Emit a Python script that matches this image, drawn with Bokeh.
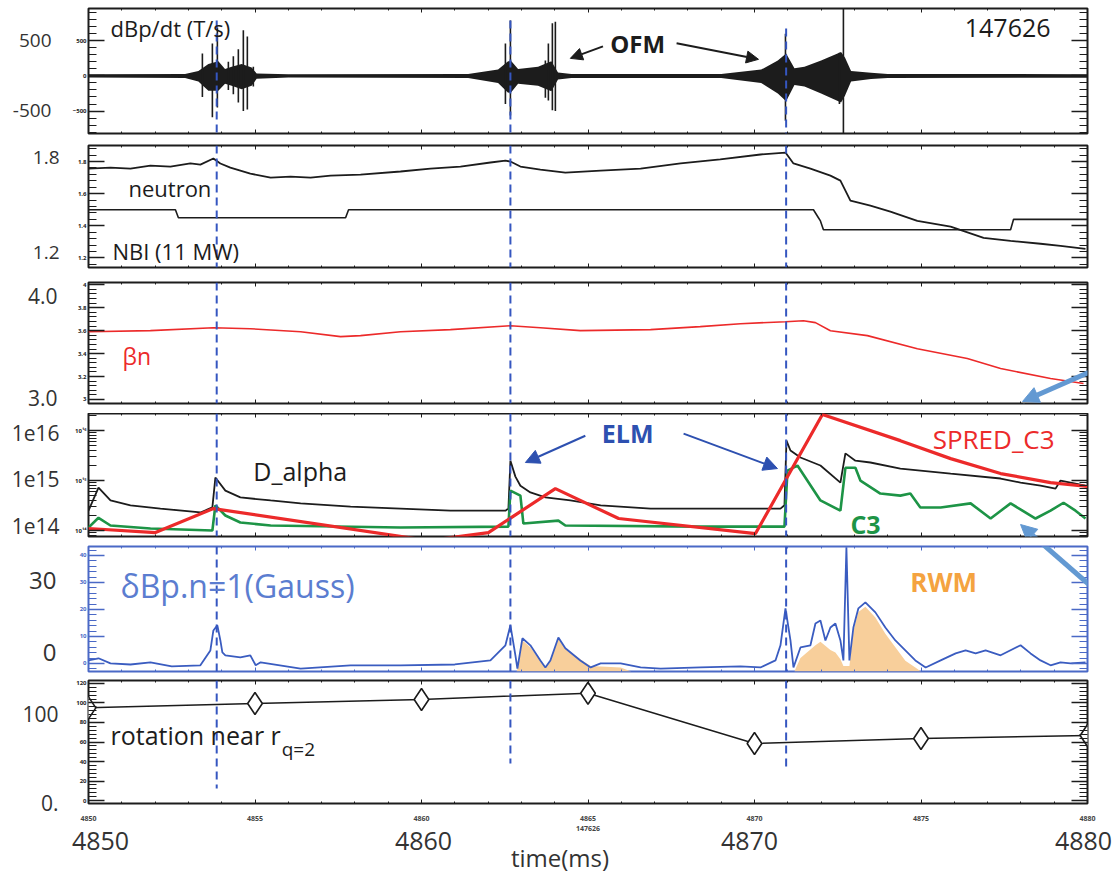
from bokeh.plotting import figure
from bokeh.layouts import column
from bokeh.models import (Range1d, LinearAxis, LogAxis, SingleIntervalTicker, FixedTicker,
                          Label, Arrow, NormalHead, Span, CustomJSTickFormatter)
from bokeh.embed import file_html
from bokeh.resources import INLINE

# ---------------- data ----------------
# dBp/dt : envelope of the oscillation band and the large individual spikes
env_t = [4850.0, 4852.9, 4853.3, 4853.6, 4853.9, 4854.1, 4854.3, 4854.6, 4854.9, 4855.05, 4856.0,
         4861.4, 4862.3, 4862.6, 4862.7, 4862.9, 4863.5, 4863.9, 4864.1, 4864.5, 4869.0, 4870.2,
         4870.7, 4870.95, 4871.2, 4871.5, 4872.0, 4872.6, 4872.72, 4872.9, 4873.5, 4874.0, 4880.0]
env_hi = [22, 28, 70, 170, 210, 100, 130, 170, 120, 35, 22, 28, 90, 210, 210, 100, 130, 210, 50,
          28, 28, 90, 220, 320, 110, 130, 220, 340, 260, 70, 45, 28, 25]
env_lo = [-22, -28, -80, -210, -210, -110, -140, -190, -140, -40, -22, -28, -100, -240, -230, -110,
          -140, -220, -50, -28, -28, -100, -250, -360, -130, -150, -250, -380, -280, -80, -45, -28, -25]
spike_t = [4853.42, 4853.72, 4853.87, 4854.20, 4854.35, 4854.50, 4854.65, 4854.77, 4854.95,
           4862.52, 4862.67, 4863.72, 4863.81, 4863.93, 4864.02, 4870.93, 4872.55, 4872.67]
spike_hi = [320, 460, 690, 200, 280, 380, 650, 560, 130, 460, 790, 220, 460, 750, 770, 600, 330, 955]
spike_lo = [-300, -590, -450, -200, -260, -380, -500, -480, -150, -400, -565, -310, -350, -490,
            -500, -640, -400, -815]

# neutron and NBI
neutron_t = [4850.0, 4850.66, 4851.26, 4851.86, 4852.46, 4853.06, 4853.36, 4853.75, 4853.96, 4854.26,
             4854.86, 4855.47, 4856.07, 4856.67, 4857.27, 4858.17, 4859.37, 4860.27, 4861.17, 4862.07,
             4862.52, 4862.67, 4862.97, 4863.57, 4864.32, 4865.38, 4866.58, 4867.78, 4868.97, 4870.18,
             4870.93, 4871.17, 4871.68, 4872.28, 4872.58, 4872.88, 4873.48, 4874.08, 4874.89, 4875.89,
             4876.88, 4877.69, 4878.59, 4879.19, 4879.94]
neutron_v = [1.756, 1.762, 1.756, 1.775, 1.769, 1.788, 1.781, 1.819, 1.788, 1.762, 1.725, 1.700, 1.706,
             1.700, 1.712, 1.719, 1.738, 1.756, 1.769, 1.794, 1.806, 1.800, 1.769, 1.750, 1.731, 1.744,
             1.756, 1.788, 1.813, 1.844, 1.856, 1.788, 1.756, 1.712, 1.681, 1.556, 1.525, 1.488, 1.431,
             1.394, 1.325, 1.306, 1.288, 1.275, 1.256]
nbi_t = [4850.0, 4852.61, 4852.70, 4857.72, 4857.81, 4871.77, 4871.92, 4871.98, 4872.07, 4877.69,
         4877.78, 4880.0]
nbi_v = [1.50, 1.50, 1.45, 1.45, 1.50, 1.50, 1.45, 1.43, 1.375, 1.375, 1.44, 1.44]

# beta_n
beta_t = [4850.0, 4851.86, 4853.75, 4854.86, 4856.37, 4857.57, 4858.17, 4859.37, 4860.87, 4862.67,
          4863.57, 4864.77, 4866.88, 4868.37, 4869.58, 4870.93, 4871.47, 4871.83, 4872.28, 4873.39,
          4874.89, 4876.39, 4877.39, 4878.89, 4879.88]
beta_v = [3.591, 3.600, 3.626, 3.617, 3.591, 3.548, 3.557, 3.591, 3.609, 3.643, 3.626, 3.600, 3.609,
          3.635, 3.661, 3.678, 3.687, 3.670, 3.600, 3.557, 3.443, 3.357, 3.270, 3.183, 3.139]

# D_alpha, C3 and SPRED_C3 (log scale)
da_t = [4850.0, 4850.3, 4850.66, 4851.26, 4852.16, 4853.36, 4853.72, 4853.81, 4854.11, 4854.56,
        4855.47, 4856.37, 4857.87, 4859.37, 4860.87, 4862.52, 4862.61, 4862.67, 4862.82, 4862.97,
        4863.27, 4863.72, 4864.47, 4865.38, 4866.88, 4868.37, 4870.78, 4870.9, 4870.96, 4871.08,
        4871.38, 4871.98, 4872.58, 4872.73, 4873.03, 4873.48, 4874.38, 4875.89, 4877.39, 4877.99,
        4878.59, 4879.04, 4879.19, 4879.94]
da_v = [2.5e14, 7.2e14, 4.0e14, 3.2e14, 2.75e14, 2.3e14, 2.9e14, 1.15e15, 6.3e14, 4.6e14, 4.0e14,
        3.5e14, 3.0e14, 2.75e14, 2.5e14, 2.5e14, 2.75e14, 2.5e15, 1.2e15, 7.9e14, 5.8e14, 4.6e14,
        4.0e14, 3.2e14, 2.75e14, 2.75e14, 2.75e14, 3.2e14, 6.3e15, 4.0e15, 2.9e15, 2.0e15, 9.1e14,
        3.5e15, 2.5e15, 2.3e15, 1.74e15, 1.38e15, 1.1e15, 9.1e14, 7.9e14, 6.9e14, 1.0e15, 7.9e14]
c3_t = [4850.0, 4850.3, 4850.66, 4851.86, 4853.72, 4853.81, 4854.11, 4854.56, 4855.47, 4859.37,
        4862.61, 4862.67, 4862.97, 4863.06, 4864.11, 4864.32, 4868.37, 4870.9, 4870.99, 4871.29,
        4871.98, 4872.58, 4872.73, 4873.03, 4873.18, 4873.78, 4874.38, 4874.68, 4874.98, 4875.59,
        4876.49, 4877.09, 4877.69, 4878.44, 4878.89, 4879.28, 4879.64, 4879.94]
c3_v = [1.15e14, 1.8e14, 1.26e14, 1.1e14, 1.0e14, 3.2e14, 2.0e14, 1.45e14, 1.26e14, 1.15e14, 1.2e14,
        6.3e14, 5.0e14, 1.38e14, 1.58e14, 1.26e14, 1.2e14, 1.2e14, 1.58e15, 2.0e15, 4.0e14, 2.5e14,
        1.8e15, 1.8e15, 1.0e15, 5.5e14, 5.0e14, 5.5e14, 2.9e14, 2.9e14, 3.5e14, 1.74e14, 3.5e14,
        1.74e14, 2.5e14, 3.6e14, 2.5e14, 1.74e14]
spred_t = [4850.0, 4852.01, 4853.75, 4860.21, 4862.01, 4864.02, 4865.92, 4870.03, 4872.04, 4874.38,
           4875.89, 4877.39, 4878.89, 4880.0]
spred_v = [1.1e14, 9.1e13, 2.75e14, 6.3e13, 9.1e13, 6.9e14, 1.74e14, 8.7e13, 2.1e16, 6.3e15, 2.75e15,
           1.38e15, 9.1e14, 7.6e14]

# delta Bp n=1 (Gauss) and RWM part
db_t = [4850.0, 4850.3, 4850.66, 4851.26, 4851.86, 4852.5, 4853.36, 4853.66, 4853.75, 4853.87,
        4853.96, 4854.02, 4854.11, 4854.56, 4854.86, 4855.02, 4855.17, 4856.37, 4857.87, 4859.37,
        4861.0, 4862.07, 4862.52, 4862.67, 4862.82, 4862.88, 4863.03, 4863.27, 4863.57, 4863.72,
        4863.87, 4864.11, 4864.32, 4864.77, 4865.08, 4865.38, 4865.98, 4866.58, 4867.18, 4868.37,
        4869.58, 4870.18, 4870.63, 4870.78, 4870.93, 4871.08, 4871.17, 4871.38, 4871.68, 4871.83,
        4871.98, 4872.13, 4872.28, 4872.43, 4872.58, 4872.67, 4872.76, 4872.85, 4872.97, 4873.12,
        4873.33, 4873.63, 4873.93, 4874.23, 4874.53, 4874.83, 4875.14, 4875.59, 4876.04, 4876.34,
        4876.64, 4876.94, 4877.39, 4877.99, 4878.29, 4878.59, 4878.89, 4879.19, 4879.49, 4879.94]
db_v = [1.1, 1.9, 0.0, -0.4, 0.4, -1.1, -0.7, 4.8, 12.2, 14.1,
        8.5, 4.1, 3.0, 2.2, 3.0, -0.7, 0.4, -1.9, -0.7, -0.7,
        -0.4, 1.1, 6.7, 14.1, 3.0, -1.9, 9.3, 6.7, 1.1, -1.5,
        1.1, 9.6, 5.6, 1.1, -1.5, 0.0, 0.0, -1.5, -1.9, -1.5,
        -1.1, -1.5, 1.1, 6.7, 20.4, 8.5, -1.5, 5.9, 6.7, 14.8,
        15.9, 8.5, 13.3, 14.8, 8.5, 1.1, 43.0, 1.1, 13.3, 20.4,
        22.6, 18.9, 13.3, 8.5, 4.8, 1.1, -1.5, 1.1, 3.7, 4.8,
        3.7, 4.8, 3.0, 6.7, 3.7, 1.1, -0.7, 0.4, 0.0, 0.4]
rwm_t = [4862.85, 4862.9, 4863.03, 4863.27, 4863.57, 4863.72, 4863.87, 4864.11, 4864.32, 4864.77,
         4865.08, 4865.98, 4866.3, 4871.2, 4871.25, 4871.38, 4871.83, 4871.98, 4872.28, 4872.43,
         4872.58, 4872.67, 4872.85, 4872.97, 4873.12, 4873.33, 4873.63, 4873.93, 4874.23, 4874.53,
         4874.83, 4875.0]
rwm_v = [-3, -1.5, 8.5, 6.0, 1.0, -1.5, 1.0, 9.0, 5.5, 1.5, -1.0, -1.5, -3, -3, -1.5, 2.0, 6.7, 8.0,
         5.0, 4.0, 1.5, -1.0, -1.0, 12.0, 19.0, 21.0, 17.0, 11.0, 6.0, 1.0, -1.5, -3]

# rotation near q=2
rot_t = [4850, 4855, 4860, 4865, 4870, 4875, 4880]
rot_v = [95, 99.5, 103.6, 110, 58.5, 63.6, 66.7]

# event times (dashed lines)
event_t = [4853.85, 4862.67, 4870.95]
event_top = [790, 790, 676]          # start of the dashed line in the dBp/dt panel
event_bottom = [12.3, 38.0, 30.8]    # end of the dashed line in the rotation panel

# big x tick labels
x_big_labels = ["4850", "4860", "4870", "4880"]

# ---------------- style ----------------
FONT = "Open Sans"
INK = "#1c1c1c"
RED = "#ec2a2a"
GREEN = "#1d9446"
BLUE = "#3a5cc0"
PBLUE = "#4a69c6"
DASH = "#3556c0"
ELMC = "#2d50b0"
LBLUE = "#5b7dd0"
ORANGE_F = "#f8cf9b"
RWMC = "#f4a340"
ARROWB = "#6399d2"

XR = Range1d(4850, 4880)


def xticker():
    return SingleIntervalTicker(interval=5, num_minor_ticks=5)


def tick_style(ax, col, tin, minin, lw=1.0):
    ax.major_tick_in = tin
    ax.major_tick_out = 0
    ax.minor_tick_in = minin
    ax.minor_tick_out = 0
    ax.major_tick_line_color = col
    ax.minor_tick_line_color = col
    ax.major_tick_line_width = lw
    ax.minor_tick_line_width = 1
    ax.axis_line_color = None


def hide_labels(ax):
    ax.formatter = CustomJSTickFormatter(code="return ''")
    ax.major_label_text_font_size = "1px"
    ax.major_label_standoff = 0


def make_panel(yr, fh, bt, bb, yticker_fn, log=False, col=INK, outer=None, outer_size="19px",
               outer_standoff=14, inner_overrides=None, bottom_labels=False):
    p = figure(x_range=XR, y_range=yr, y_axis_type=("log" if log else "linear"),
               frame_width=999, frame_height=fh, min_border_left=88, min_border_right=28,
               min_border_top=bt, min_border_bottom=bb, output_backend="svg",
               toolbar_location=None, background_fill_color="white", border_fill_color="white")
    p.xgrid.visible = False
    p.ygrid.visible = False
    p.outline_line_color = col
    p.outline_line_width = 2
    AX = LogAxis if log else LinearAxis
    xa = p.below[0]
    xa.ticker = xticker()
    tick_style(xa, col, 4, 2)
    if not bottom_labels:
        hide_labels(xa)
    top = LinearAxis(ticker=xticker())
    tick_style(top, col, 4, 2)
    hide_labels(top)
    p.add_layout(top, "above")
    ya = p.left[0]
    ya.ticker = yticker_fn()
    tick_style(ya, col, 16, 8, 1.5)
    ya.major_label_text_font_size = "6px"
    ya.major_label_text_font_style = "bold"
    ya.major_label_text_font = FONT
    ya.major_label_text_color = col
    ya.major_label_standoff = 2
    if inner_overrides:
        ya.major_label_overrides = inner_overrides
    ra = AX(ticker=yticker_fn())
    tick_style(ra, col, 16, 8, 1.5)
    hide_labels(ra)
    p.add_layout(ra, "right")
    if outer:
        ticks, labs = outer
        oa = AX(ticker=FixedTicker(ticks=ticks, minor_ticks=[]),
                major_label_overrides=dict(zip(ticks, labs)))
        tick_style(oa, col, 0, 0)
        oa.major_tick_line_color = None
        oa.minor_tick_line_color = None
        oa.major_label_text_font_size = outer_size
        oa.major_label_text_font = FONT
        oa.major_label_text_color = "#333333"
        oa.major_label_standoff = outer_standoff
        p.add_layout(oa, "left")
    return p


def label(p, x, y, text, size, color=INK, bold=False, align="left"):
    p.add_layout(Label(x=x, y=y, text=text, text_font=FONT, text_font_size=size,
                       text_color=color, text_font_style=("bold" if bold else "normal"),
                       text_align=align, text_baseline="middle"))


def arrow(p, x0, y0, x1, y1, color, width, head=12):
    end = NormalHead(size=head, fill_color=color, line_color=color) if head else None
    p.add_layout(Arrow(end=end, x_start=x0, y_start=y0, x_end=x1, y_end=y1,
                       line_color=color, line_width=width))


def spans(p):
    for t in event_t:
        p.add_layout(Span(location=t, dimension="height", line_color=DASH, line_width=2,
                          line_dash="8 5"))


# ---------------- panel 1 : dBp/dt ----------------
p1 = make_panel(Range1d(-820, 960), 125, 8, 6,
                lambda: SingleIntervalTicker(interval=500, num_minor_ticks=5),
                outer=([507, -486], ["500", "-500"]), outer_size="19px", outer_standoff=18)
p1.varea(x=env_t, y1=env_lo, y2=env_hi, color=INK)
p1.segment(x0=spike_t, y0=spike_lo, x1=spike_t, y1=spike_hi, line_color=INK, line_width=1.6)
p1.segment(x0=event_t, y0=event_top, x1=event_t, y1=[-820] * len(event_t), line_color=DASH,
           line_width=2, line_dash="8 5")
label(p1, 4850.66, 679, "dBp/dt (T/s)", "22px")
label(p1, 4878.89, 679, "147626", "25px", align="right")
label(p1, 4866.49, 464, "OFM", "24px", bold=True, align="center")
arrow(p1, 4865.45, 421, 4864.47, 250, INK, 2, 12)
arrow(p1, 4867.66, 464, 4870.12, 236, INK, 2, 12)

# ---------------- panel 2 : neutron / NBI ----------------
p2 = make_panel(Range1d(1.14, 1.9), 122, 6, 7,
                lambda: SingleIntervalTicker(interval=0.2, num_minor_ticks=5),
                outer=([1.825, 1.231], ["1.8", "1.2"]), outer_size="19px", outer_standoff=15)
p2.line(nbi_t, nbi_v, line_color=INK, line_width=1.6)
p2.line(neutron_t, neutron_v, line_color=INK, line_width=1.8)
spans(p2)
label(p2, 4851.2, 1.6375, "neutron", "22px")
label(p2, 4850.72, 1.244, "NBI (11 MW)", "22px")

# ---------------- panel 3 : beta_n ----------------
p3 = make_panel(Range1d(2.965, 4.02), 121, 8, 10,
                lambda: SingleIntervalTicker(interval=0.2, num_minor_ticks=5),
                outer=([3.904, 3.01], ["4.0", "3.0"]), outer_size="21px", outer_standoff=17)
p3.line(beta_t, beta_v, line_color=RED, line_width=1.6)
spans(p3)
label(p3, 4851.02, 3.383, "βn", "23px", color=RED)
arrow(p3, 4880.84, 3.339, 4878.05, 2.983, ARROWB, 5, 16)

# ---------------- panel 4 : D_alpha / C3 / SPRED_C3 ----------------
log_major = [1e14, 1e15, 1e16]
log_minor = [k * 10.0 ** e for e in (13, 14, 15, 16) for k in range(2, 10)]
p4 = make_panel(Range1d(7.6e13, 2.2e16), 123, 0, 5,
                lambda: FixedTicker(ticks=log_major, minor_ticks=log_minor), log=True,
                outer=([9.1e15, 1.1e15, 1.26e14], ["1e16", "1e15", "1e14"]), outer_size="21px",
                outer_standoff=13,
                inner_overrides={1e14: "10¹⁴", 1e15: "10¹⁵", 1e16: "10¹⁶"})
p4.line(da_t, da_v, line_color=INK, line_width=1.8)
p4.line(c3_t, c3_v, line_color=GREEN, line_width=2.6)
p4.line(spred_t, spred_v, line_color=RED, line_width=3.2)
spans(p4)
label(p4, 4854.95, 1.58e15, "D_alpha", "25px")
label(p4, 4875.35, 6.9e15, "SPRED_C3", "26px", color=RED)
label(p4, 4872.88, 1.38e14, "C3", "25px", color=GREEN, bold=True)
label(p4, 4866.19, 9.1e15, "ELM", "25px", color=ELMC, bold=True, align="center")
arrow(p4, 4864.92, 7.9e15, 4863.12, 2.3e15, ELMC, 2, 14)
arrow(p4, 4867.87, 8.7e15, 4870.69, 1.74e15, ELMC, 2, 14)
arrow(p4, 4878.56, 6.0e13, 4877.99, 1.32e14, ARROWB, 5, 16)

# ---------------- panel 5 : delta Bp n=1 ----------------
p5 = make_panel(Range1d(-3, 43.3), 125, 5, 5,
                lambda: SingleIntervalTicker(interval=10, num_minor_ticks=5), col=PBLUE,
                outer=([30.7, 4.07], ["30", "0"]), outer_size="24px", outer_standoff=20)
p5.varea(x=rwm_t, y1=[-3] * len(rwm_t), y2=rwm_v, color=ORANGE_F)
p5.line(db_t, db_v, line_color=BLUE, line_width=1.8)
spans(p5)
label(p5, 4850.96, 28.9, "δBp.n=1(Gauss)", "32px", color=LBLUE)
label(p5, 4875.68, 30.0, "RWM", "26px", color=RWMC, bold=True, align="center")
arrow(p5, 4880.84, 20.7, 4878.56, 45.2, ARROWB, 5, 0)

# ---------------- panel 6 : rotation ----------------
p6 = make_panel(Range1d(-3, 123), 123, 4, 69,
                lambda: SingleIntervalTicker(interval=20, num_minor_ticks=5),
                outer=([88.2, -2.99], ["100", "0."]), outer_size="21px", outer_standoff=15,
                bottom_labels=True)
xa6 = p6.below[0]
xa6.major_label_text_font_size = "7px"
xa6.major_label_text_font_style = "bold"
xa6.major_label_text_font = FONT
xa6.major_label_standoff = 10
xa6.major_label_overrides = {4865: "4865\n147626"}
big_pos = [4850.36, 4860.06, 4869.85, 4879.88]
big = LinearAxis(ticker=FixedTicker(ticks=big_pos, minor_ticks=[]),
                 major_label_overrides=dict(zip(big_pos, x_big_labels)))
tick_style(big, INK, 0, 0)
big.major_tick_line_color = None
big.minor_tick_line_color = None
big.major_label_text_font_size = "25px"
big.major_label_text_font = FONT
big.major_label_text_color = "#333333"
big.major_label_standoff = -5
big.axis_label = "time(ms)" + "\u00a0" * 9
big.axis_label_text_font = FONT
big.axis_label_text_font_size = "24px"
big.axis_label_text_font_style = "normal"
big.axis_label_text_color = "#333333"
big.axis_label_standoff = -12
p6.add_layout(big, "below")
p6.line(rot_t, rot_v, line_color=INK, line_width=1.5)
p6.scatter(rot_t, rot_v, marker="diamond", size=22, fill_color="white", line_color=INK,
           line_width=1.6)
p6.segment(x0=event_t, y0=[123] * len(event_t), x1=event_t, y1=event_bottom, line_color=DASH,
           line_width=2, line_dash="8 5")
label(p6, 4850.66, 66.7, "rotation near r", "25px")
label(p6, 4855.8, 53.3, "q=2", "19px")

layout = column(p1, p2, p3, p4, p5, p6, spacing=0)
open("out.html", "w").write(file_html(layout, INLINE))
